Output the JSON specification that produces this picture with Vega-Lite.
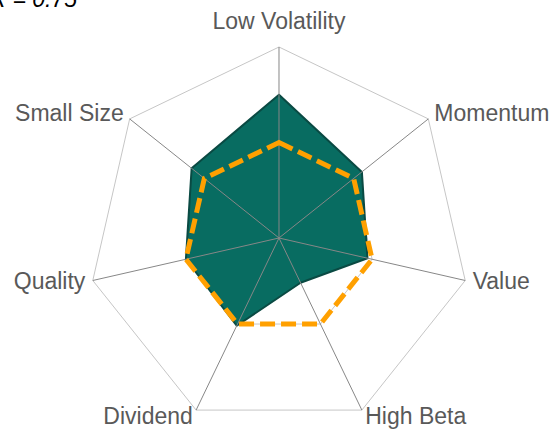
{
  "$schema": "https://vega.github.io/schema/vega-lite/v6.json",
  "width": 551,
  "height": 431,
  "padding": 0,
  "autosize": {"type": "none"},
  "background": "white",
  "config": {"view": {"stroke": null}},
  "datasets": {
    "scores": [
      {"factor": "Low Volatility", "idx": 0, "portfolio": 0.75, "benchmark": 0.5},
      {"factor": "Momentum", "idx": 1, "portfolio": 0.555, "benchmark": 0.5},
      {"factor": "Value", "idx": 2, "portfolio": 0.475, "benchmark": 0.5},
      {"factor": "High Beta", "idx": 3, "portfolio": 0.26, "benchmark": 0.5},
      {"factor": "Dividend", "idx": 4, "portfolio": 0.51, "benchmark": 0.5},
      {"factor": "Quality", "idx": 5, "portfolio": 0.5, "benchmark": 0.5},
      {"factor": "Small Size", "idx": 6, "portfolio": 0.585, "benchmark": 0.5}
    ],
    "rings": [
      {"ring": 0.5, "idx": 0}, {"ring": 0.5, "idx": 1}, {"ring": 0.5, "idx": 2}, {"ring": 0.5, "idx": 3},
      {"ring": 0.5, "idx": 4}, {"ring": 0.5, "idx": 5}, {"ring": 0.5, "idx": 6},
      {"ring": 1, "idx": 0}, {"ring": 1, "idx": 1}, {"ring": 1, "idx": 2}, {"ring": 1, "idx": 3},
      {"ring": 1, "idx": 4}, {"ring": 1, "idx": 5}, {"ring": 1, "idx": 6}
    ],
    "note": [{"label": "R = 0.75", "nx": -1.0576, "ny": 1.2094}]
  },
  "layer": [
    {
      "data": {"name": "rings"},
      "transform": [
        {"calculate": "PI/2 - datum.idx*2*PI/7", "as": "ang"},
        {"calculate": "datum.ring*cos(datum.ang)", "as": "px"},
        {"calculate": "datum.ring*sin(datum.ang)", "as": "py"}
      ],
      "mark": {"type": "line", "interpolate": "linear-closed", "stroke": "#c6c6c6", "strokeWidth": 1},
      "encoding": {
        "x": {"field": "px", "type": "quantitative", "scale": {"domain": [-1.4607, 1.4241], "nice": false, "zero": false}, "axis": null},
        "y": {"field": "py", "type": "quantitative", "scale": {"domain": [-1.0105, 1.2461], "nice": false, "zero": false}, "axis": null},
        "detail": {"field": "ring", "type": "nominal"},
        "order": {"field": "idx", "type": "quantitative"}
      }
    },
    {
      "data": {"name": "scores"},
      "transform": [
        {"calculate": "PI/2 - datum.idx*2*PI/7", "as": "ang"},
        {"calculate": "datum.portfolio*cos(datum.ang)", "as": "px"},
        {"calculate": "datum.portfolio*sin(datum.ang)", "as": "py"}
      ],
      "mark": {"type": "line", "interpolate": "linear-closed", "fill": "#086c61", "fillOpacity": 1, "stroke": "#0a4a43", "strokeWidth": 2, "strokeJoin": "round"},
      "encoding": {
        "x": {"field": "px", "type": "quantitative"},
        "y": {"field": "py", "type": "quantitative"},
        "order": {"field": "idx", "type": "quantitative"}
      }
    },
    {
      "data": {"name": "scores"},
      "transform": [
        {"calculate": "PI/2 - datum.idx*2*PI/7", "as": "ang"},
        {"calculate": "0", "as": "cx"},
        {"calculate": "0", "as": "cy"},
        {"calculate": "cos(datum.ang)", "as": "ex"},
        {"calculate": "sin(datum.ang)", "as": "ey"}
      ],
      "mark": {"type": "rule", "stroke": "#878787", "strokeWidth": 1},
      "encoding": {
        "x": {"field": "cx", "type": "quantitative"},
        "y": {"field": "cy", "type": "quantitative"},
        "x2": {"field": "ex"},
        "y2": {"field": "ey"}
      }
    },
    {
      "data": {"name": "scores"},
      "transform": [
        {"calculate": "PI/2 - datum.idx*2*PI/7", "as": "ang"},
        {"calculate": "datum.benchmark*cos(datum.ang)", "as": "px"},
        {"calculate": "datum.benchmark*sin(datum.ang)", "as": "py"}
      ],
      "mark": {"type": "line", "interpolate": "linear-closed", "stroke": "#ffa000", "strokeWidth": 5, "strokeDash": [15, 6]},
      "encoding": {
        "x": {"field": "px", "type": "quantitative"},
        "y": {"field": "py", "type": "quantitative"},
        "order": {"field": "idx", "type": "quantitative"}
      }
    },
    {
      "data": {"name": "scores"},
      "transform": [
        {"filter": "datum.idx == 0"},
        {"calculate": "PI/2 - datum.idx*2*PI/7", "as": "ang"},
        {"calculate": "1.04*cos(datum.ang)", "as": "px"},
        {"calculate": "1.04*sin(datum.ang)", "as": "py"}
      ],
      "mark": {"type": "text", "align": "center", "baseline": "middle", "dy": -17, "font": "Liberation Sans", "fontSize": 23, "color": "#595959"},
      "encoding": {
        "x": {"field": "px", "type": "quantitative"},
        "y": {"field": "py", "type": "quantitative"},
        "text": {"field": "factor"}
      }
    },
    {
      "data": {"name": "scores"},
      "transform": [
        {"filter": "datum.idx >= 1 && datum.idx <= 3"},
        {"calculate": "PI/2 - datum.idx*2*PI/7", "as": "ang"},
        {"calculate": "1.04*cos(datum.ang)", "as": "px"},
        {"calculate": "1.04*sin(datum.ang)", "as": "py"}
      ],
      "mark": {"type": "text", "align": "left", "baseline": "middle", "font": "Liberation Sans", "fontSize": 23, "color": "#595959"},
      "encoding": {
        "x": {"field": "px", "type": "quantitative"},
        "y": {"field": "py", "type": "quantitative"},
        "text": {"field": "factor"}
      }
    },
    {
      "data": {"name": "scores"},
      "transform": [
        {"filter": "datum.idx >= 4"},
        {"calculate": "PI/2 - datum.idx*2*PI/7", "as": "ang"},
        {"calculate": "1.04*cos(datum.ang)", "as": "px"},
        {"calculate": "1.04*sin(datum.ang)", "as": "py"}
      ],
      "mark": {"type": "text", "align": "right", "baseline": "middle", "font": "Liberation Sans", "fontSize": 23, "color": "#595959"},
      "encoding": {
        "x": {"field": "px", "type": "quantitative"},
        "y": {"field": "py", "type": "quantitative"},
        "text": {"field": "factor"}
      }
    },
    {
      "data": {"name": "note"},
      "mark": {"type": "text", "align": "right", "baseline": "alphabetic", "font": "Liberation Sans", "fontStyle": "italic", "fontSize": 23, "color": "#000000"},
      "encoding": {
        "x": {"field": "nx", "type": "quantitative"},
        "y": {"field": "ny", "type": "quantitative"},
        "text": {"field": "label"}
      }
    }
  ]
}
